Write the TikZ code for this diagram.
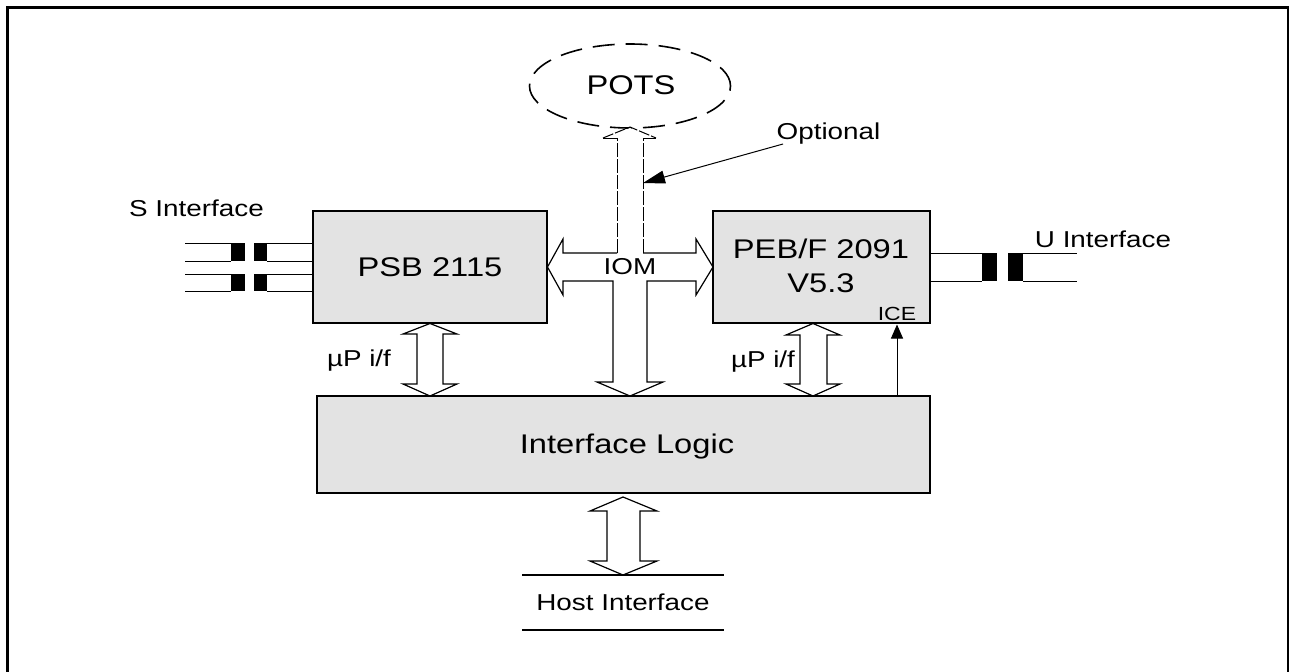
\documentclass[tikz,border=0pt]{standalone}
\usepackage{fontspec}
\setmainfont[FakeStretch=1.21]{Liberation Sans}
\usetikzlibrary{arrows.meta,shapes.geometric}
\tikzset{
  x=1pt,y=-1pt,
  block/.style={draw=black,fill=black!11,line width=1.9pt,line join=miter},
  busline/.style={draw=black,line width=1.2pt,line join=miter},
  dashbus/.style={draw=black,line width=1pt,dash pattern=on 14pt off 2pt},
  wire/.style={draw=black,line width=1pt},
  core/.style={fill=black,draw=none},
  lab/.style={inner sep=0pt,font=\fontsize{27}{34}\selectfont,align=center},
  smalllab/.style={inner sep=0pt,font=\fontsize{23}{28}\selectfont,align=center},
}
\begin{document}
\begin{tikzpicture}
\useasboundingbox (0,0) rectangle (1291,672);
\fill[white] (0,0) rectangle (1291,672);
\draw[black,line width=2.4pt] (7.5,672) -- (7.5,7.5) -- (1288,7.5) -- (1288,672);
% blocks
\draw[block] (313,211) rectangle (547,323);
\draw[block] (713,211) rectangle (930,323);
\draw[block] (317,396) rectangle (930,493);
\node[lab] (psb) at (430,267) {PSB 2115};
\node[lab] (peb) at (821,266) {PEB/F 2091\\V5.3};
\node[lab] (logic) at (627,447) {Interface Logic};
\node[smalllab,font=\fontsize{19}{22}\selectfont] (ice) at (897,314) {ICE};
% POTS
\node[draw=black,line width=1.6pt,dash pattern=on 22pt off 11pt,ellipse,minimum width=201pt,minimum height=84pt,inner sep=0pt] (pots) at (630,86) {};
\node[lab] (potslabel) at (631,85) {POTS};
% dashed up bus
\fill[white] (617,253) -- (617,138) -- (603,138) -- (630,128) -- (656,138) -- (643,138) -- (643,253) -- cycle;
\draw[dashbus] (617,253) -- (617,138);
\draw[dashbus] (643,253) -- (643,138);
\draw[busline,line width=1pt,dash pattern=on 11pt off 2pt] (603,138) -- (630,127) -- (656,138);
\draw[busline,line width=1pt] (603,138) -- (617,138) (643,138) -- (656,138);
% IOM bus
\draw[busline] (617,253) -- (563,253) -- (563,239) -- (547.5,267) -- (563,295) -- (563,281) -- (613,281) -- (613,382) -- (597,382) -- (630,396) -- (663,382) -- (647,382) -- (647,281) -- (696,281) -- (696,295) -- (713,267) -- (696,239) -- (696,253) -- (643,253);
\node[smalllab] (iom) at (630,267) {IOM};
% uP buses
\draw[busline] (430,323.5) -- (457,334) -- (443,334) -- (443,384) -- (457,384) -- (430,396) -- (403,384) -- (417,384) -- (417,334) -- (403,334) -- cycle;
\draw[busline] (813,323.5) -- (840,335) -- (827,335) -- (827,384) -- (840,384) -- (813,396) -- (786,384) -- (800,384) -- (800,335) -- (786,335) -- cycle;
\node[smalllab] (up1) at (359,361) {µP i/f};
\node[smalllab] (up2) at (763,362) {µP i/f};
% ICE arrow
\coordinate (iceb) at (897,396);
\coordinate (icet) at (897,324.5);
\draw[black,line width=1pt,-{Triangle[length=14pt,width=12pt]}] (iceb) -- (icet);
% Host
\draw[busline] (623,497) -- (657,511) -- (640,511) -- (640,561) -- (657,561) -- (623,575) -- (590,561) -- (607,561) -- (607,511) -- (590,511) -- cycle;
\draw[black,line width=1.7pt] (522,575) -- (724,575);
\draw[black,line width=1.7pt] (522,630) -- (724,630);
\node[smalllab] (host) at (623,602) {Host Interface};
% S interface
\foreach \y in {243,261,274,291}{
  \draw[wire] (185,\y) -- (231,\y);
  \draw[wire] (267,\y) -- (313,\y);
}
\fill[core] (231,243) rectangle (245,261);
\fill[core] (254,243) rectangle (267,261);
\fill[core] (231,274) rectangle (245,291);
\fill[core] (254,274) rectangle (267,291);
\node[smalllab] (sif) at (196.5,208) {S Interface};
% U interface
\foreach \y in {253,281}{
  \draw[wire] (930,\y) -- (982,\y);
  \draw[wire] (1023,\y) -- (1077,\y);
}
\fill[core] (982,253) rectangle (997,281);
\fill[core] (1008,253) rectangle (1023,281);
\node[smalllab] (uif) at (1103,239) {U Interface};
% Optional
\node[smalllab] (opt) at (828.5,134) {Optional};
\coordinate (optstart) at (783,144);
\coordinate (optend) at (643,183);
\draw[black,line width=1pt,-{Triangle[length=22pt,width=13pt]}] (optstart) -- (optend);
\end{tikzpicture}
\end{document}
